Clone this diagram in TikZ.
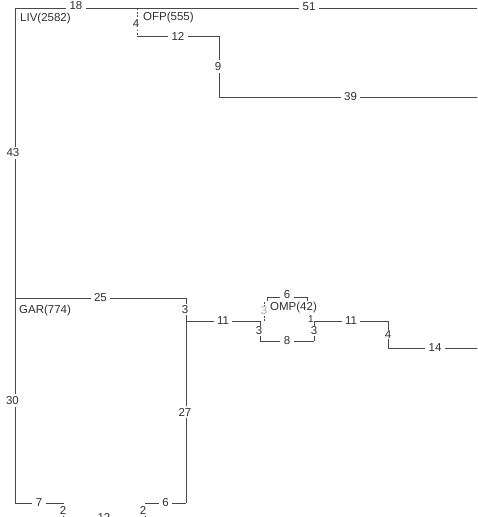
\documentclass[tikz,border=0pt]{standalone}
\usepackage{fontspec}
\setmainfont{Liberation Sans}
\definecolor{edgec}{HTML}{484848}
\definecolor{txtc}{HTML}{303030}
\begin{document}
\begin{tikzpicture}[x=1pt,y=-1pt,
  edge/.style={draw=edgec,line width=1pt},
  dashedge/.style={edge,dash pattern=on 2pt off 1.5pt},
  lbl/.style={fill=white,inner xsep=3.5pt,inner ysep=2pt,font=\fontsize{11.5}{12}\selectfont,text=txtc},
  nm/.style={inner sep=1pt,anchor=west,font=\fontsize{11.5}{12}\selectfont,text=txtc}]
\clip (0,0) rectangle (477,517);
\fill[white] (0,0) rectangle (477,517);
% junctions
\coordinate (liv) at (15,8);
\coordinate (ofpj) at (137,8);
\coordinate (topR) at (481,8);
\coordinate (ofp) at (137,36);
\coordinate (a1) at (219,36);
\coordinate (a2) at (219,97);
\coordinate (a3) at (482,97);
\coordinate (gar) at (15,298);
\coordinate (b1) at (186,298);
\coordinate (b2) at (186,321);
\coordinate (omp) at (260,321);
\coordinate (c1) at (260,341);
\coordinate (c2) at (314,341);
\coordinate (c3) at (314,321);
\coordinate (c4) at (388,321);
\coordinate (c5) at (388,348);
\coordinate (c6) at (482,348);
\coordinate (d1) at (186,503);
\coordinate (d2) at (145,503);
\coordinate (d3) at (145,517);
\coordinate (d4) at (63,517);
\coordinate (d5) at (63,503);
\coordinate (d6) at (15,503);
\coordinate (e1) at (264,321);
\coordinate (e2) at (264,301);
\coordinate (f1) at (267,301);
\coordinate (f2) at (267,297);
\coordinate (f3) at (307,297);
\coordinate (f4) at (307,301);
\coordinate (g1) at (311,321);
\coordinate (g2) at (311,317);
% edges
\draw[edge] (liv) -- node[lbl,yshift=2pt]{18} (ofpj);
\draw[edge] (ofpj) -- node[lbl,yshift=1pt]{51} (topR);
\draw[dashedge] (ofpj) -- node[lbl,inner xsep=1pt,xshift=-1pt,yshift=-2pt]{4} (ofp);
\draw[edge] (ofp) -- node[lbl]{12} (a1);
\draw[edge] (a1) -- node[lbl,xshift=-1pt]{9} (a2);
\draw[edge] (a2) -- node[lbl]{39} (a3);
\draw[edge] (liv) -- node[lbl,xshift=-2pt]{43} (gar);
\draw[edge] (gar) -- node[lbl,xshift=-2.5pt]{30} (d6);
\draw[edge] (gar) -- node[lbl]{25} (b1);
\draw[edge] (b1) -- node[lbl,inner ysep=1pt,xshift=-1pt]{3} (b2);
\draw[edge] (b2) -- node[lbl]{11} (omp);
\draw[edge] (b2) -- node[lbl,xshift=-1pt]{27} (d1);
\draw[edge] (d1) -- node[lbl]{6} (d2);
\draw[edge] (d2) -- node[lbl,xshift=-2pt]{2} (d3);
\draw[edge] (d3) -- node[lbl]{12} (d4);
\draw[edge] (d4) -- node[lbl]{2} (d5);
\draw[edge] (d5) -- node[lbl]{7} (d6);
\draw[edge] (omp) -- node[lbl,inner sep=0.5pt,xshift=-1pt]{3} (c1);
\draw[edge] (c1) -- node[lbl]{8} (c2);
\draw[edge] (c2) -- node[lbl,inner sep=0.5pt]{3} (c3);
\draw[edge] (c3) -- node[lbl]{11} (c4);
\draw[edge] (c4) -- node[lbl,inner sep=0.5pt]{4} (c5);
\draw[edge] (c5) -- node[lbl]{14} (c6);
\draw[dashedge] (e1) -- node[lbl,inner sep=0.5pt,text=txtc!40]{3} (e2);
\draw[edge] (f1) -- (f2) -- node[lbl,inner ysep=0.5pt,yshift=2pt]{6} (f3) -- (f4);
% node names
\node[nm] (livn) at (19,19) {LIV(2582)};
\node[nm] (ofpn) at (142,18) {OFP(555)};
\node[nm] (garn) at (18,311) {GAR(774)};
\node[nm,fill=white] (ompn) at (269,308) {OMP(42)};
\draw[edge] (g1) -- node[lbl,inner sep=0pt,font=\fontsize{10}{10}\selectfont]{1} (g2);
\end{tikzpicture}
\end{document}
